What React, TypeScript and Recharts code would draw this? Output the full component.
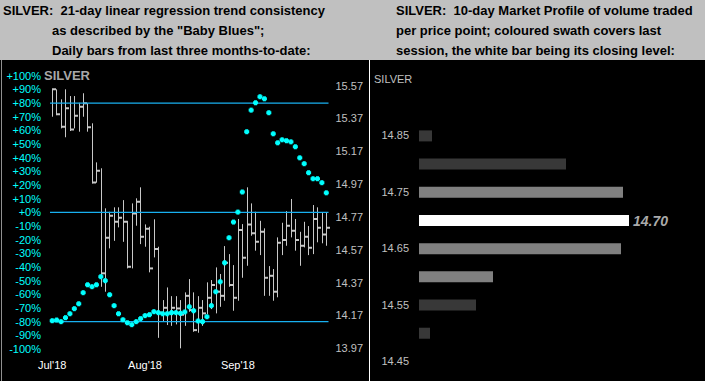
import React from 'react';
import {
  ComposedChart, Bar, Line, XAxis, YAxis, ReferenceLine, BarChart, Cell, LabelList,
} from 'recharts';

// ---------- Left panel data (daily bars, Jul–Sep 2018) ----------
const highs = [15.548,15.548,15.487,15.548,15.507,15.507,15.466,15.524,15.463,15.341,15.103,15.067,14.823,14.802,14.829,14.829,14.873,14.747,14.853,14.884,14.951,14.725,14.711,14.756,14.589,14.264,14.341,14.288,14.288,14.264,14.311,14.392,14.311,14.288,14.264,14.372,14.386,14.463,14.423,14.593,14.544,14.477,14.758,14.727,14.951,14.853,14.802,14.747,14.701,14.471,14.453,14.646,14.735,14.806,14.880,14.758,14.680,14.741,14.715,14.843,14.829,14.799,14.799];
const lows = [15.381,15.391,15.310,15.256,15.294,15.310,15.290,15.381,15.290,14.975,14.979,14.345,14.315,14.579,14.625,14.707,14.619,14.457,14.457,14.717,14.605,14.589,14.433,14.524,14.034,14.132,14.112,14.107,14.116,13.970,14.107,14.193,14.071,14.065,14.107,14.179,14.209,14.183,14.223,14.260,14.345,14.199,14.260,14.400,14.473,14.656,14.565,14.538,14.290,14.290,14.260,14.281,14.538,14.595,14.646,14.565,14.473,14.585,14.538,14.544,14.616,14.610,14.595];
const closes = [15.548,15.396,15.320,15.432,15.304,15.387,15.442,15.463,15.317,14.981,15.052,14.427,14.644,14.778,14.741,14.766,14.741,14.467,14.792,14.863,14.650,14.699,14.457,14.575,14.187,14.217,14.183,14.217,14.213,14.175,14.290,14.203,14.081,14.217,14.183,14.278,14.356,14.315,14.290,14.491,14.356,14.278,14.691,14.522,14.725,14.671,14.619,14.680,14.400,14.412,14.315,14.613,14.630,14.717,14.686,14.630,14.595,14.650,14.583,14.758,14.705,14.664,14.705];
const babyBlues = [-79.3,-78.8,-80,-77.1,-74.2,-70.5,-66.9,-58.8,-53,-54.4,-53,-47.1,-50,-60.3,-68.3,-74.2,-78.6,-80.8,-82.2,-80,-77.8,-75.6,-74.9,-72.7,-73.4,-74.2,-74.2,-73.4,-73.4,-73.9,-72.9,-69.1,-72,-79.5,-80,-76.4,-68.3,-58.1,-50.8,-36.9,-18.6,-7.1,0.2,14.9,59,74.8,80.2,84.6,83.1,72.9,57.5,50.9,53.1,52.4,51.6,48,39.9,35.6,29,24.6,24.6,21.7,14.3];
const monthTickIndex = [0, 21, 42];
const monthTickLabel = ["Jul'18", "Aug'18", "Sep'18"];
const pctTicks = [-100,-90,-80,-70,-60,-50,-40,-30,-20,-10,0,10,20,30,40,50,60,70,80,90,100];
const priceTicks = [13.97,14.17,14.37,14.57,14.77,14.97,15.17,15.37,15.57];
const pctRefLevels = [80, 0, -80];

// ---------- Right panel data (10-day market profile) ----------
const profileLevels = ['14.85','14.80','14.75','14.70','14.65','14.60','14.55','14.50','14.45'];
const profileVolume = [13, 147, 204, 210, 202, 74, 57, 11, 0];
const profileShade = ['dark','dark','mid','close','mid','mid','dark','dark','dark'];
const closingLevelIndex = 3;

const rows = highs.map((h, i) => ({ idx: i, high: h, low: lows[i], close: closes[i], bb: babyBlues[i] }));
const profileRows = profileLevels.map((lvl, i) => ({ level: lvl, volume: profileVolume[i], shade: profileShade[i] }));

const FONT = '"Liberation Sans", Arial, Helvetica, sans-serif';
const shadeColor: Record<string, string> = { dark: '#383838', mid: '#808080', close: '#ffffff' };

const HlcShape = (props: any) => {
  const { x, y, width, height, payload } = props;
  if (x == null || y == null) return null;
  const top = Math.min(y, y + height);
  const h = Math.abs(height);
  const cx = Math.round(x + width / 2) + 0.5;
  const span = payload.high - payload.low || 1;
  const cy = top + ((payload.high - payload.close) / span) * h;
  return (
    <g>
      <line x1={cx} x2={cx} y1={top} y2={top + h} stroke="#c8c8c8" strokeWidth={1} />
      <line x1={cx - 0.5} x2={cx + 3.5} y1={cy} y2={cy} stroke="#c8c8c8" strokeWidth={2} />
    </g>
  );
};

const BlueDot = (props: any) => {
  const { cx, cy, index } = props;
  if (cx == null || cy == null) return <g key={index} />;
  return (
    <g key={index}>
      <rect x={cx - 2.5} y={cy - 1.5} width={5} height={3} fill="#00ffff" />
      <rect x={cx - 1.5} y={cy - 2.5} width={3} height={5} fill="#00ffff" />
    </g>
  );
};

const pctFmt = (v: number) => (v >= 0 ? `+${v}%` : `${v}%`);

const headerLine = (text: string, left: number, top: number) => (
  <div style={{ position: 'absolute', left, top, height: 20, lineHeight: '20px', fontSize: 13, fontWeight: 'bold', color: '#000', whiteSpace: 'pre', fontFamily: FONT }}>{text}</div>
);

export default function App() {
  return (
    <div style={{ position: 'absolute', left: 0, top: 0, width: 705, height: 381, background: '#c0c0c0', overflow: 'hidden', fontFamily: FONT }}>
      {headerLine('SILVER:  21-day linear regression trend consistency', 3, 1)}
      {headerLine('as described by the "Baby Blues";', 52, 21)}
      {headerLine('Daily bars from last three months-to-date:', 52, 41)}
      {headerLine('SILVER:  10-day Market Profile of volume traded', 396, 1)}
      {headerLine('per price point; coloured swath covers last', 396, 21)}
      {headerLine('session, the white bar being its closing level:', 396, 41)}

      {/* Left panel */}
      <div style={{ position: 'absolute', left: 0, top: 60, width: 368, height: 321, background: '#000' }}>
        <div style={{ position: 'absolute', left: 1, top: 0, width: 1, height: 321, background: '#909090' }} />
        <ComposedChart width={368} height={321} data={rows} margin={{ top: 15.7, right: 0, bottom: 0, left: 0 }} barCategoryGap={0}>
          <XAxis dataKey="idx" type="category" interval={0} tickLine={false} axisLine={false} height={32} tickMargin={6}
            tick={{ fill: '#ffffff', fontSize: 11, fontFamily: FONT }}
            tickFormatter={(v: number) => { const k = monthTickIndex.indexOf(v); return k >= 0 ? monthTickLabel[k] : ''; }} />
          <YAxis yAxisId="pct" orientation="left" width={50} domain={[-100, 100]} ticks={pctTicks} interval={0}
            tickLine={false} axisLine={false} tickMargin={3} tickFormatter={pctFmt}
            tick={{ fill: '#00ffff', fontSize: 11, fontFamily: FONT }} />
          <YAxis yAxisId="px" orientation="right" width={39.5} domain={[13.966, 15.631]} allowDataOverflow ticks={priceTicks} interval={0}
            tickLine={false} axisLine={false} tickMargin={1} tickFormatter={(v: number) => v.toFixed(2)}
            tick={{ fill: '#c0c0c0', fontSize: 11, fontFamily: FONT }} />
          {pctRefLevels.map((lv) => (
            <ReferenceLine key={lv} yAxisId="pct" y={lv} stroke="#18b0f0" strokeWidth={1.2} />
          ))}
          <Bar yAxisId="px" dataKey={(d: any) => [d.low, d.high]} shape={HlcShape} isAnimationActive={false} />
          <Line yAxisId="pct" dataKey="bb" stroke="none" strokeWidth={0} dot={BlueDot} activeDot={false} isAnimationActive={false} />
        </ComposedChart>
        <div style={{ position: 'absolute', left: 44, top: 8, lineHeight: '16px', fontSize: 13, fontWeight: 'bold', color: '#a8a8a8', fontFamily: FONT }}>SILVER</div>
      </div>

      {/* Right panel */}
      <div style={{ position: 'absolute', left: 368, top: 60, width: 337, height: 321, background: '#000' }}>
        <div style={{ position: 'absolute', left: 1, top: 0, width: 1, height: 321, background: '#ffffff' }} />
        <div style={{ position: 'absolute', left: 6, top: 12, lineHeight: '14px', fontSize: 11, color: '#c0c0c0', fontFamily: FONT }}>SILVER</div>
        <div style={{ position: 'absolute', left: 2, top: 0 }}>
          <BarChart layout="vertical" width={335} height={321} data={profileRows} margin={{ top: 61.4, right: 26, bottom: 5.9, left: 0 }} barSize={11} barCategoryGap={0}>
            <XAxis type="number" domain={[0, 260]} hide />
            <YAxis type="category" dataKey="level" width={49} interval={0} tickLine={false} axisLine={false} tickMargin={4}
              tick={{ fill: '#c0c0c0', fontSize: 11, fontFamily: FONT }}
              tickFormatter={(v: string, i: number) => (i % 2 === 0 ? v : '')} />
            <Bar dataKey="volume" isAnimationActive={false}>
              {profileRows.map((r, i) => (
                <Cell key={i} fill={shadeColor[r.shade]} />
              ))}
              <LabelList dataKey="volume" content={(p: any) => {
                if (p.index !== closingLevelIndex) return null;
                return (
                  <text x={p.x + p.width + 4} y={p.y + p.height / 2} dy="0.36em" fill="#aaaaaa" fontSize={14} fontWeight="bold" fontStyle="italic" fontFamily={FONT}>
                    {profileLevels[closingLevelIndex]}
                  </text>
                );
              }} />
            </Bar>
          </BarChart>
        </div>
      </div>
    </div>
  );
}
